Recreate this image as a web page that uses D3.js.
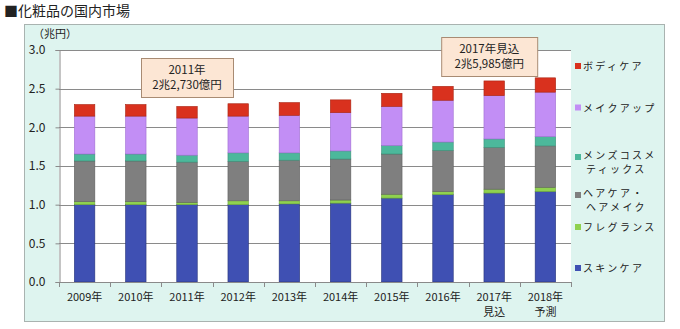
<!DOCTYPE html>
<html><head><meta charset="utf-8">
<script src="https://cdn.jsdelivr.net/npm/d3@7"></script>
<style>
body{margin:0;background:#fff;}
svg text{font-family:"Noto Sans CJK JP","Noto Sans",sans-serif;fill:#222;}
</style></head>
<body><svg id="c" width="680" height="329"></svg>
<script>
const years = ["2009年","2010年","2011年","2012年","2013年","2014年","2015年","2016年","2017年","2018年"];
const yearSub = ["","","","","","","","","見込","予測"];
const seriesNames = ["スキンケア","フレグランス","ヘアケア・ヘアメイク","メンズコスメティックス","メイクアップ","ボディケア"];
const skincare  = [1.00,1.00,1.00,1.00,1.01,1.02,1.085,1.13,1.15,1.17];
const fragrance = [0.04,0.04,0.03,0.05,0.04,0.04,0.05,0.04,0.05,0.055];
const haircare  = [0.525,0.525,0.52,0.51,0.525,0.53,0.52,0.53,0.54,0.535];
const mens      = [0.09,0.09,0.09,0.11,0.095,0.105,0.11,0.11,0.11,0.12];
const makeup    = [0.49,0.49,0.48,0.475,0.485,0.495,0.505,0.54,0.56,0.575];
const bodycare  = [0.15,0.15,0.15,0.16,0.165,0.165,0.17,0.18,0.19,0.185];
const yTicks = [0,0.5,1.0,1.5,2.0,2.5,3.0];
const colors = ["#3f50b3","#8fd14f","#7f7f7f","#4cb89b","#c28ef5","#d9311e"];
const strokes = ["#27347a","#6aa838","#5e5e5e","#3a9078","#a06ed2","#a82412"];
const legendLines = [["ボディケア"],["メイクアップ"],["メンズコスメ","ティックス"],["ヘアケア・","ヘアメイク"],["フレグランス"],["スキンケア"]];
const notes = [{year:"2011年", lines:["2011年","2兆2,730億円"]},{year:"2017年", lines:["2017年見込","2兆5,985億円"]}];

const svg = d3.select("#c");
const L=59,R=571,T=50,B=282;
const keys = ["s0","s1","s2","s3","s4","s5"];
const seriesArr=[skincare,fragrance,haircare,mens,makeup,bodycare];
const rows = years.map((y,i)=>{const o={year:y}; keys.forEach((k,j)=>o[k]=seriesArr[j][i]); return o;});
const stack = d3.stack().keys(keys)(rows);

const x = d3.scaleBand().domain(years).range([L,R]).paddingInner(0.6).paddingOuter(0.3);
const y = d3.scaleLinear().domain([0,3]).range([B,T]);

// panel
svg.append("rect").attr("x",24.5).attr("y",24.5).attr("width",640).attr("height",297).attr("fill","#def4ef").attr("stroke","#a9b3b0");
svg.append("rect").attr("x",L).attr("y",T).attr("width",R-L).attr("height",B-T).attr("fill","#fff");

svg.append("text").attr("x",4).attr("y",16).attr("font-size",14).text("■化粧品の国内市場");
svg.append("text").attr("x",33).attr("y",38).attr("font-size",11).text("（兆円）");

// grid
svg.append("g").selectAll("line").data(yTicks.filter(d=>d>0)).join("line")
 .attr("x1",L).attr("x2",R).attr("y1",d=>Math.round(y(d))+0.5).attr("y2",d=>Math.round(y(d))+0.5)
 .attr("stroke","#8a8a8a").attr("stroke-width",1);

// y axis
const ya = svg.append("g").attr("transform",`translate(${L+0.5},0)`).call(d3.axisLeft(y).tickValues(yTicks).tickFormat(d3.format(".1f")).tickSize(4));
ya.select(".domain").attr("stroke","#8a8a8a");
ya.selectAll(".tick line").attr("stroke","#8a8a8a");
ya.selectAll(".tick text").attr("x",-14).attr("font-size",12).attr("fill","#222").attr("font-family","'DejaVu Sans Mono',monospace");

// bars
svg.append("g").selectAll("g").data(stack).join("g")
 .attr("fill",(d,i)=>colors[i]).attr("stroke",(d,i)=>strokes[i]).attr("stroke-width",0.6)
 .selectAll("rect").data(d=>d).join("rect")
 .attr("x",d=>x(d.data.year)).attr("width",x.bandwidth())
 .attr("y",d=>y(d[1])).attr("height",d=>y(d[0])-y(d[1]));

// x axis
svg.append("line").attr("x1",L).attr("x2",R).attr("y1",B+0.5).attr("y2",B+0.5).attr("stroke","#8a8a8a");
const step = x.step();
svg.append("g").selectAll("line").data(d3.range(years.length+1)).join("line")
 .attr("x1",i=>Math.round(L+i*step)+0.5).attr("x2",i=>Math.round(L+i*step)+0.5)
 .attr("y1",B).attr("y2",B+5).attr("stroke","#8a8a8a");
const xl = svg.append("g").selectAll("g").data(years).join("g")
 .attr("transform",d=>`translate(${x(d)+x.bandwidth()/2},0)`);
xl.append("text").attr("y",301).attr("text-anchor","middle").attr("font-size",11).text(d=>d);
xl.append("text").attr("y",316).attr("text-anchor","middle").attr("font-size",11).text((d,i)=>yearSub[i]);

// annotations
notes.forEach((n,k)=>{
  const cx = k===0 ? x(n.year)+x.bandwidth()/2 : x(n.year)+x.bandwidth()/2 - 5;
  const w = k===0?92:96, top = k===0?58:37;
  svg.append("rect").attr("x",cx-w/2+0.5).attr("y",top+0.5).attr("width",w).attr("height",39)
   .attr("fill","#fce6d4").attr("stroke","#a88b73");
  n.lines.forEach((t,j)=>svg.append("text").attr("x",cx).attr("y",top+16+j*15).attr("text-anchor","middle").attr("font-size",11.5).text(t));
});

// legend
const legY=[66,107.5,157,195,227,268];
legendLines.forEach((lines,i)=>{
  const si = 5-i;
  svg.append("rect").attr("x",575).attr("y",legY[i]-3).attr("width",6).attr("height",6).attr("fill",colors[si]);
  const off = lines.length>1 ? -2.5 : 0;
  lines.forEach((t,j)=>svg.append("text").attr("x",j===0?583:586).attr("y",legY[i]+4+off+j*14.6).attr("font-size",10).attr("letter-spacing",2.3).text(t));
});
</script></body></html>
